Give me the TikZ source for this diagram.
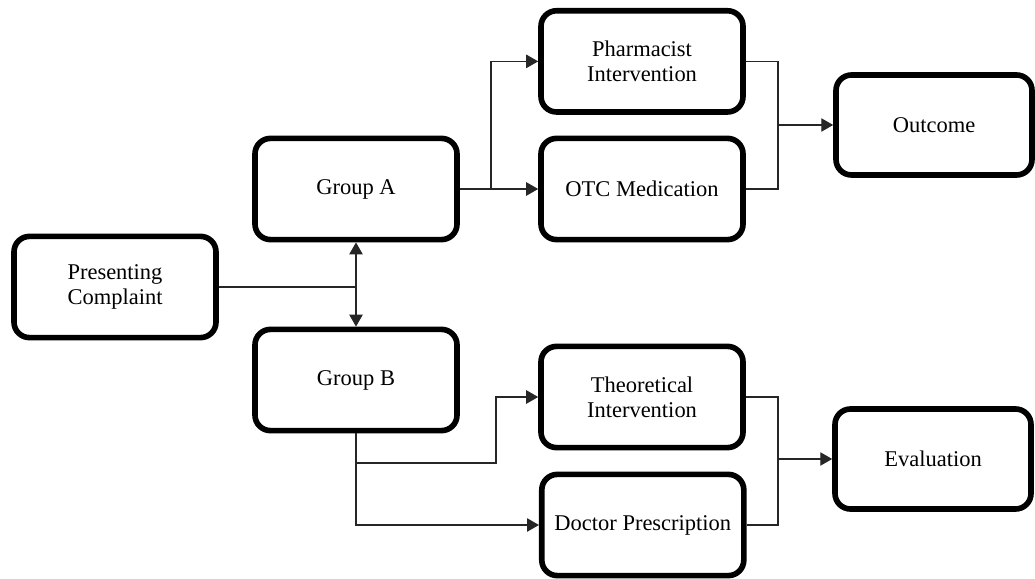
\documentclass[tikz,border=0pt]{standalone}
\usepackage{fontspec}
\setmainfont{Liberation Serif}
\usetikzlibrary{positioning, arrows.meta}

\begin{document}
\begin{tikzpicture}[>={Triangle[length=8.5pt, width=9.5pt]},
	stage/.style={draw, rectangle, rounded corners=11pt, line width=4pt, minimum width=5.05cm, minimum height=2.53cm, align=center, font=\fontsize{16}{17.7}\selectfont},
	result/.style={stage, minimum width=4.9cm, minimum height=2.5cm},
	link/.style={line width=0.9pt, draw=black!85}]
	
	\useasboundingbox (0,0) rectangle (25.875,-14.475);
	
	% Define nodes
	\node [stage] (complaint) at (2.875,-7.175) {Presenting \\ Complaint};
	\node [stage] (groupA) at (8.9,-4.725) {Group A};
	\node [stage] (groupB) at (8.9,-9.5) {Group B};
	\node [stage] (otc) at (16.05,-4.725) {OTC Medication};
	\node [stage, above=0.52cm of otc] (pharmacist) {Pharmacist \\ Intervention};
	\node [result] (outcome) at (23.35,-3.125) {Outcome};
	\node [stage] (theoretical) at (16.05,-9.925) {Theoretical \\ Intervention};
	\node [stage] (doctor) at (16.07,-13.125) {Doctor Prescription};
	\node [result] (evaluation) at (23.325,-11.475) {Evaluation};
	
	% Junction points
	\coordinate (splitA) at (12.275,-4.725);
	\coordinate (joinA) at (19.45,-3.125);
	\coordinate (splitB) at (8.9,-11.575);
	\coordinate (bendB) at (12.4,-9.925);
	\coordinate (joinB) at (19.45,-11.475);
	
	% Arrows from the complaint to both groups
	\draw[link] (complaint.east) -- (complaint.east -| groupA.south);
	\draw[link, <->] (groupA.south) -- (groupB.north);
	
	% Group A branch
	\draw[link, ->] (groupA.east) -- (otc.west);
	\draw[link, ->] (splitA) |- (pharmacist.west);
	\draw[link] (pharmacist.east) -| (joinA);
	\draw[link] (otc.east) -| (joinA);
	\draw[link, ->] (joinA) -- (outcome.west);
	
	% Group B branch
	\draw[link, ->] (groupB.south) |- (doctor.west);
	\draw[link, ->] (splitB) -| (bendB) -- (theoretical.west);
	\draw[link] (theoretical.east) -| (joinB);
	\draw[link] (doctor.east) -| (joinB);
	\draw[link, ->] (joinB) -- (evaluation.west);
	
\end{tikzpicture}
\end{document}
